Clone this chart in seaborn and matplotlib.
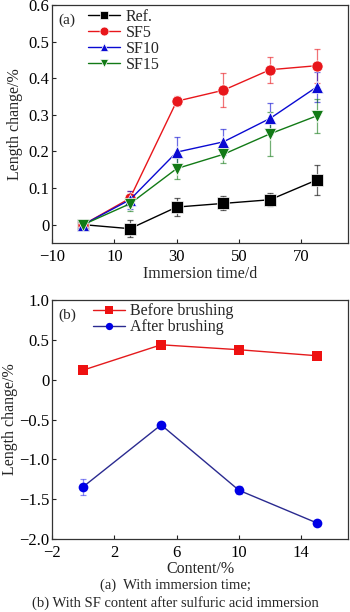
import numpy as np
import pandas as pd
import matplotlib
matplotlib.use("Agg")
import matplotlib.pyplot as plt
import seaborn as sns

# Panel (a) data
days = [0, 15, 30, 45, 60, 75]
ref = [0.0, -0.011, 0.048, 0.058, 0.068, 0.122]
ref_err = [0.0, 0.023, 0.024, 0.019, 0.018, 0.042]
sf5 = [0.0, 0.072, 0.337, 0.367, 0.423, 0.434]
sf5_err = [0.0, 0.021, 0.014, 0.047, 0.036, 0.046]
sf10 = [0.0, 0.068, 0.198, 0.226, 0.290, 0.376]
sf10_err = [0.0, 0.025, 0.040, 0.035, 0.042, 0.040]
sf15 = [0.0, 0.057, 0.153, 0.192, 0.248, 0.297]
sf15_err = [0.0, 0.019, 0.029, 0.024, 0.060, 0.047]
series_a = ["Ref.", "SF5", "SF10", "SF15"]

# Panel (b) data
content = [0, 5, 10, 15]
before = [0.12, 0.437, 0.375, 0.30]
before_err = [0.02, 0.03, 0.04, 0.03]
after = [-1.342, -0.567, -1.387, -1.796]
after_err = [0.10, 0.02, 0.05, 0.02]
series_b = ["Before brushing", "After brushing"]

sns.set_style("ticks")
plt.rcParams['font.family'] = ['Liberation Serif', 'DejaVu Serif']

fig = plt.figure(figsize=(3.5, 6.12), dpi=100)
ax1 = fig.add_axes([0.149, 0.603, 0.845, 0.389])
ax2 = fig.add_axes([0.149, 0.119, 0.845, 0.391])

df_a = pd.DataFrame({
    "x": days * 4,
    "y": ref + sf5 + sf10 + sf15,
    "s": sum([[s] * len(days) for s in series_a], []),
})
colors_a = {"Ref.": "#000000", "SF5": "#e8161b", "SF10": "#0a0ad2", "SF15": "#127a16"}
markers_a = {"Ref.": "s", "SF5": "o", "SF10": "^", "SF15": "v"}
errs_a = {"Ref.": ref_err, "SF5": sf5_err, "SF10": sf10_err, "SF15": sf15_err}
vals_a = {"Ref.": ref, "SF5": sf5, "SF10": sf10, "SF15": sf15}

for s in series_a:
    ax1.errorbar(days, vals_a[s], yerr=errs_a[s], fmt='none', ecolor=colors_a[s],
                 elinewidth=0.9, capsize=2.5, capthick=0.9, alpha=0.6, zorder=2)
sns.lineplot(data=df_a, x="x", y="y", hue="s", style="s", palette=colors_a,
             markers=markers_a, dashes=False, markersize=8, markeredgewidth=0.5,
             linewidth=1.0, ax=ax1, zorder=3)

ax1.set_xlim(-10, 85)
ax1.set_ylim(-0.05, 0.6)
ax1.set_xticks([-10, 10, 30, 50, 70])
ax1.set_yticks([0, 0.1, 0.2, 0.3, 0.4, 0.5, 0.6])
ax1.set_yticklabels(["0", "0.1", "0.2", "0.3", "0.4", "0.5", "0.6"])
ax1.set_xticklabels(["\u221210", "10", "30", "50", "70"])
ax1.set_xlabel("Immersion time/d", fontsize=11.5, labelpad=1)
ax1.set_ylabel("Length change/%", fontsize=11.5, labelpad=4)
ax1.text(0.02, 0.965, "(a)", transform=ax1.transAxes, fontsize=11, va="top")
leg = ax1.legend(loc="upper left", bbox_to_anchor=(0.09, 1.025), frameon=False,
                 fontsize=11.5, handlelength=2.0, handletextpad=0.35, labelspacing=0.0,
                 borderaxespad=0.2, markerscale=0.8)

df_b = pd.DataFrame({
    "x": content * 2,
    "y": before + after,
    "s": [series_b[0]] * len(content) + [series_b[1]] * len(content),
})
colors_b = {"Before brushing": "#e41a1c", "After brushing": "#2a2a90"}
markers_b = {"Before brushing": "s", "After brushing": "o"}
mfc_b = {"Before brushing": "#ee1111", "After brushing": "#0000e6"}
errs_b = {"Before brushing": before_err, "After brushing": after_err}
vals_b = {"Before brushing": before, "After brushing": after}

for s in series_b:
    ax2.errorbar(content, vals_b[s], yerr=errs_b[s], fmt='none', ecolor=mfc_b[s],
                 elinewidth=0.9, capsize=2.5, capthick=0.9, alpha=0.45, zorder=2)
sns.lineplot(data=df_b, x="x", y="y", hue="s", style="s", palette=colors_b,
             markers=markers_b, dashes=False, markersize=7, markeredgewidth=0,
             linewidth=1.0, ax=ax2, zorder=3)
for s, line in zip(series_b, [l for l in ax2.get_lines() if l.get_marker() in ("s", "o")][:2]):
    line.set_markerfacecolor(mfc_b[s])
    line.set_markeredgecolor(mfc_b[s])

ax2.set_xlim(-2, 17)
ax2.set_ylim(-2.0, 1.0)
ax2.set_xticks([-2, 2, 6, 10, 14])
ax2.set_xticklabels(["\u22122", "2", "6", "10", "14"])
ax2.set_yticks([-2.0, -1.5, -1.0, -0.5, 0, 0.5, 1.0])
ax2.set_yticklabels(["\u22122.0", "\u22121.5", "\u22121.0", "\u22120.5", "0", "0.5", "1.0"])
ax2.set_xlabel("Content/%", fontsize=11.5, labelpad=0)
ax2.set_ylabel("Length change/%", fontsize=11.5, labelpad=1)
ax2.text(0.02, 0.965, "(b)", transform=ax2.transAxes, fontsize=11, va="top")
leg2 = ax2.legend(loc="upper left", bbox_to_anchor=(0.105, 1.025), frameon=False,
                  fontsize=11.5, handlelength=2.0, handletextpad=0.35, labelspacing=0.0,
                  borderaxespad=0.2, markerscale=0.75)
for h, s in zip(leg2.legend_handles, series_b):
    h.set_markerfacecolor(mfc_b[s])
    h.set_markeredgecolor(mfc_b[s])

for ax in (ax1, ax2):
    for sp in ax.spines.values():
        sp.set_visible(True)
        sp.set_color("#333333")
        sp.set_linewidth(0.9)
    ax.tick_params(direction="in", length=3, width=0.8, labelsize=12, pad=2,
                   colors="#222222", labelcolor="black")
ax1.tick_params(axis="x", pad=4)
ax2.tick_params(axis="x", pad=4)

fig.text(0.5, 0.043, "(a)  With immersion time;", ha="center", va="center", fontsize=10.5)
fig.text(0.5, 0.015, "(b) With SF content after sulfuric acid immersion", ha="center",
         va="center", fontsize=10.5)

fig.savefig("out.png", dpi=100)
